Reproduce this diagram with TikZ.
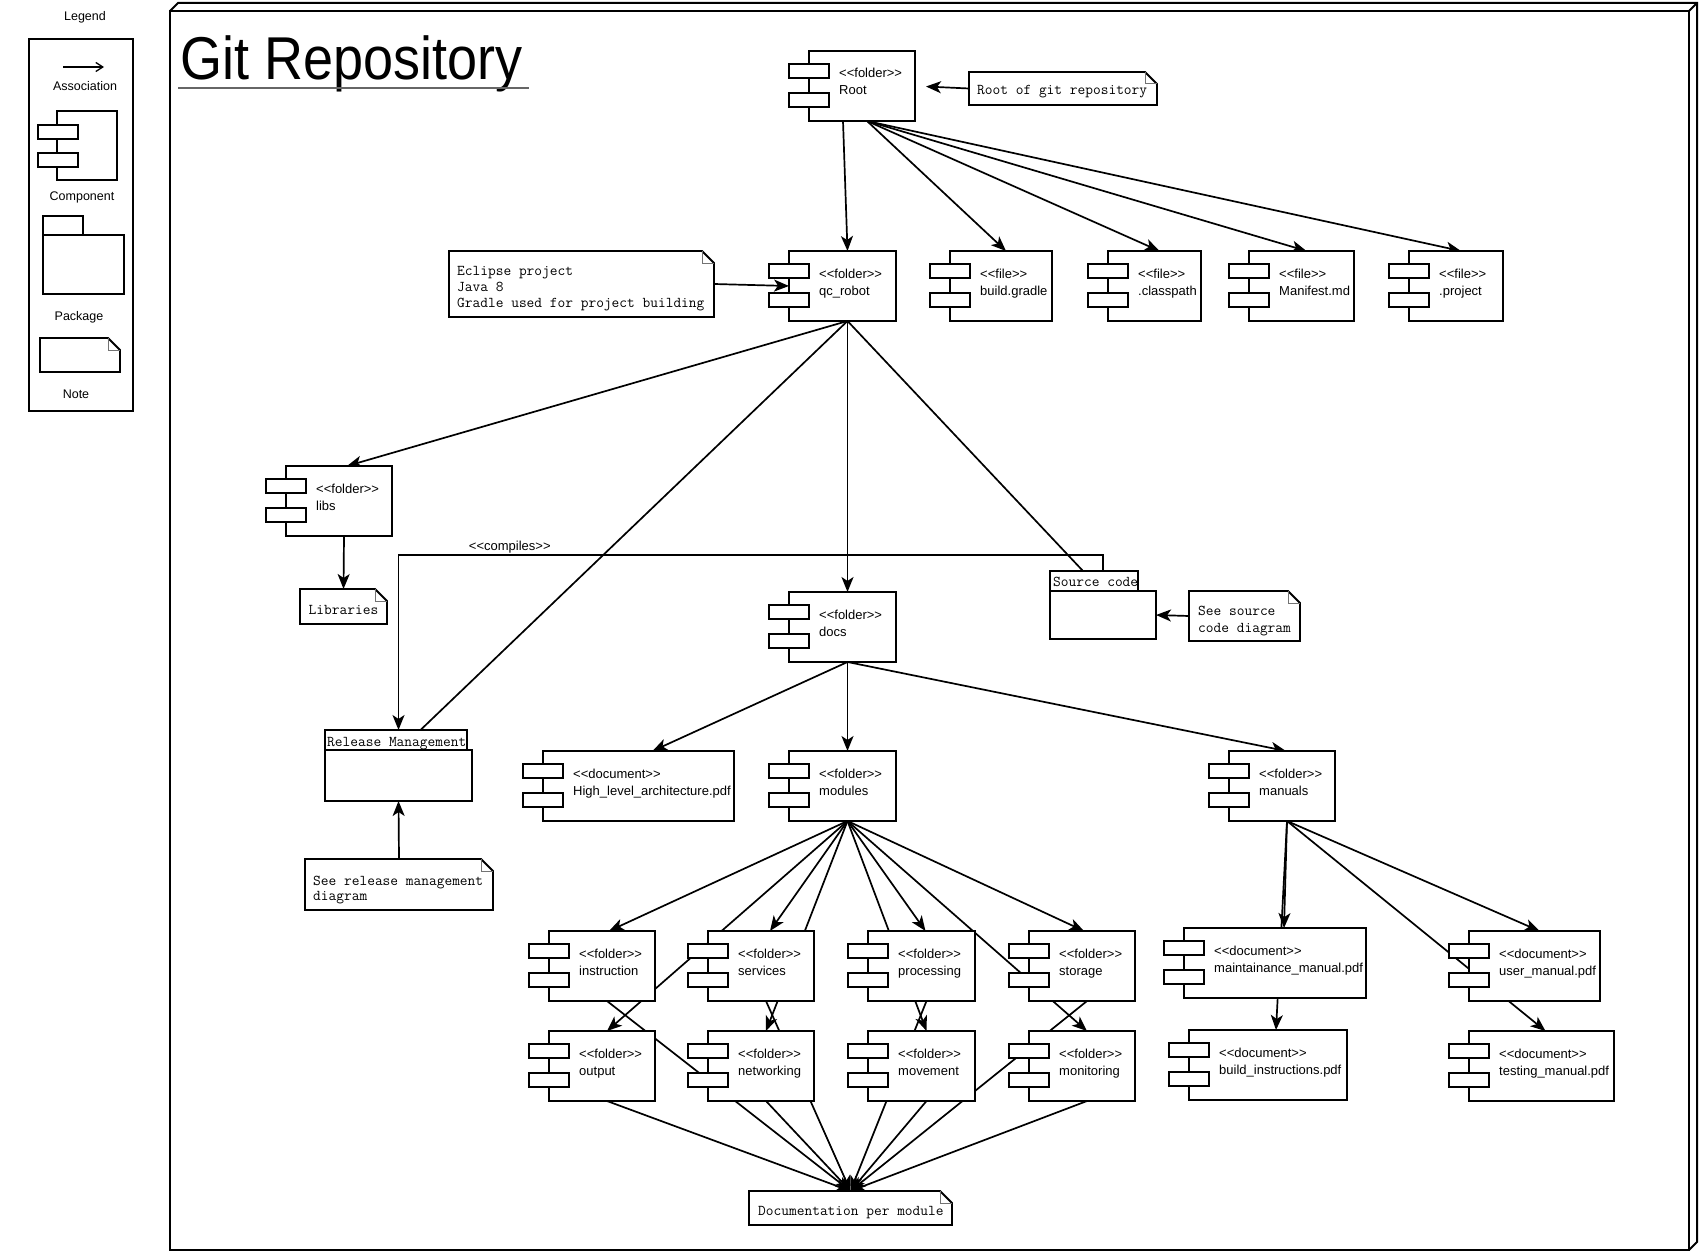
\documentclass[tikz,border=0pt]{standalone}
\usepackage{fontspec}
\usepackage{graphicx}
\newfontfamily\uifont{Liberation Sans}
\usetikzlibrary{arrows.meta,calc}
\pgfdeclarelayer{edges}
\pgfsetlayers{edges,main}
\newcommand\stereo[1]{<\kern0pt<#1>\kern0pt>}
\tikzset{
  box/.style={draw, fill=white, line width=1.8pt, inner sep=0pt, outer sep=0pt, line join=miter},
  compmain/.style={box, minimum height=70pt},
  smallbox/.style={draw, fill=white, line width=1.8pt},
  ctext/.style={font=\uifont\fontsize{13}{15}\selectfont, inner sep=0pt},
  ltext/.style={font=\uifont\fontsize{12.5}{14}\selectfont, inner sep=0pt},
  mtext/.style={font=\ttfamily\fontsize{15}{16}\selectfont, inner sep=0pt},
  notestyle/.style={draw, fill=white, line width=1.8pt, line join=miter},
  conn/.style={line width=1.7pt, -{Stealth[length=15pt,width=12pt,inset=4pt]}},
  plainconn/.style={line width=1.7pt},
  ghost/.style={inner sep=0pt, outer sep=0pt},
}
\newcommand\comp[6]{%
  \node[compmain, minimum width={#4-#2}, anchor=north west] (#1) at (#2,#3) {};
  \draw[smallbox] ($(#1.north west)+(-20,13)$) rectangle ++(40,14);
  \draw[smallbox] ($(#1.north west)+(-20,42)$) rectangle ++(40,14);
  \node[ctext, anchor=base west] (#1-s) at ($(#1.north west)+(30,27)$) {\stereo{#5}};
  \node[ctext, anchor=base west] (#1-l) at ($(#1.north west)+(30,44)$) {#6};
}
\newcommand\notebox[5]{%
  \node[ghost, minimum width={#4-#2}, minimum height={#5-#3}, anchor=north west] (#1) at (#2,#3) {};
  \draw[notestyle] (#1.north west) -- ($(#1.north east)+(-12,0)$) -- ($(#1.north east)+(0,12)$) -- (#1.south east) -- (#1.south west) -- cycle;
  \draw[line width=1pt, black!55] ($(#1.north east)+(-12,0)$) |- ($(#1.north east)+(0,12)$);
}
\begin{document}
\begin{tikzpicture}[x=1pt,y=-1pt]
\useasboundingbox (0,0) rectangle (1700,1252);

% ---------- frame (3D node) ----------
\draw[line width=2pt, line join=miter] (170,11) rectangle (1689,1250);
\draw[line width=2pt, line join=miter] (170,11) -- (178,3) -- (1697,3) -- (1697,1242) -- (1689,1250);
\draw[line width=2pt] (1689,11) -- (1697,3);

% ---------- title ----------
\node[anchor=base west, inner sep=0pt, font=\uifont\fontsize{54}{54}\selectfont] (title) at (180,80) {\scalebox{1}[1.12]{Git Repository}};
\draw[line width=1.2pt, black!60] ($(title.base west)+(-2,8)$) -- ($(title.base east)+(6,8)$);

% ---------- legend ----------
\node[ltext] (legtitle) at (85,17) {Legend};
\node[box, minimum width=104, minimum height=372, anchor=north west] (legbox) at (29,39) {};
\coordinate (la1) at (63,67);
\coordinate (la2) at (104,67);
\draw[line width=1.3pt, -{Straight Barb[length=7pt,width=9pt]}] (la1) -- (la2);
\node[ltext] (legassoc) at (85,86) {Association};
\node[box, minimum width=60, minimum height=69, anchor=north west] (legcomp) at (57,111) {};
\draw[smallbox] (38,125) rectangle (78,139);
\draw[smallbox] (38,153) rectangle (78,167);
\node[ltext] (legcompt) at (82,197) {Component};
\draw[box] (43,216) rectangle (83,235);
\draw[box] (43,235) rectangle (124,294);
\node[ltext] (legpack) at (79,317) {Package};
\notebox{legnote}{40}{338}{120}{372}
\node[ltext] (legnotet) at (76,394) {Note};

% ---------- components ----------
\comp{root}{809}{51}{915}{folder}{Root}
\comp{qc}{789}{251}{896}{folder}{qc\_robot}
\comp{bg}{950}{251}{1052}{file}{build.gradle}
\comp{cp}{1108}{251}{1201}{file}{.classpath}
\comp{mf}{1249}{251}{1354}{file}{Manifest.md}
\comp{pj}{1409}{251}{1503}{file}{.project}
\comp{libs}{286}{466}{392}{folder}{libs}
\comp{docs}{789}{592}{896}{folder}{docs}
\comp{hla}{543}{751}{734}{document}{High\_level\_architecture.pdf}
\comp{modules}{789}{751}{896}{folder}{modules}
\comp{manuals}{1229}{751}{1335}{folder}{manuals}
\comp{instr}{549}{931}{655}{folder}{instruction}
\comp{serv}{708}{931}{814}{folder}{services}
\comp{proc}{868}{931}{975}{folder}{processing}
\comp{stor}{1029}{931}{1135}{folder}{storage}
\comp{outp}{549}{1031}{655}{folder}{output}
\comp{netw}{708}{1031}{814}{folder}{networking}
\comp{move}{868}{1031}{975}{folder}{movement}
\comp{moni}{1029}{1031}{1135}{folder}{monitoring}
\comp{maint}{1184}{928}{1366}{document}{maintainance\_manual.pdf}
\comp{build}{1189}{1030}{1347}{document}{build\_instructions.pdf}
\comp{user}{1469}{931}{1600}{document}{user\_manual.pdf}
\comp{test}{1469}{1031}{1614}{document}{testing\_manual.pdf}

% ---------- packages ----------
\node[box, minimum width=88, minimum height=20, anchor=north west] (srctab) at (1050,571) {};
\node[box, minimum width=106, minimum height=48, anchor=north west] (srcbody) at (1050,591) {};
\node[mtext, anchor=base west] (srctabt) at (1053,586) {Source code};
\node[box, minimum width=142, minimum height=20, anchor=north west] (reltab) at (325,730) {};
\node[box, minimum width=147, minimum height=51, anchor=north west] (relbody) at (325,750) {};
\node[mtext, anchor=base west] (reltabt) at (327,746) {Release Management};

% ---------- notes ----------
\notebox{rootnote}{969}{72}{1157}{105}
\node[mtext, anchor=base west] (rootnotet) at (977,95) {Root of git repository};
\notebox{eclnote}{449}{251}{714}{317}
\node[mtext, anchor=base west] (ecl1) at (457,276) {Eclipse project};
\node[mtext, anchor=base west] (ecl2) at (457,291.5) {Java 8};
\node[mtext, anchor=base west] (ecl3) at (457,307) {Gradle used for project building};
\notebox{libnote}{300}{589}{387}{624}
\node[mtext, anchor=base] (libnotet) at (343.5,614) {Libraries};
\notebox{srcnote}{1189}{591}{1300}{641}
\node[mtext, anchor=base west] (src1) at (1198,615) {See source};
\node[mtext, anchor=base west] (src2) at (1198,632) {code diagram};
\notebox{relnote}{305}{859}{493}{910}
\node[mtext, anchor=base west] (rel1) at (313,885) {See release management};
\node[mtext, anchor=base west] (rel2) at (313,900) {diagram};
\notebox{docnote}{749}{1191}{952}{1225}
\node[mtext, anchor=base west] (docnotet) at (758,1215) {Documentation per module};

% ---------- connectors ----------
\begin{pgfonlayer}{edges}
\draw[conn] ([xshift=-19pt]root.south) -- ([xshift=5pt]qc.north);
\foreach \t in {bg,cp,mf,pj} \draw[conn] ([xshift=5pt]root.south) -- ([xshift=5pt]\t.north);
\draw[conn, shorten >=11pt] (rootnote.west) -- (root.east);
\draw[conn] (eclnote.east) -- (qc.west);
\draw[conn] ([xshift=5pt]qc.south) -- ([xshift=8pt]libs.north);
\draw[plainconn] ([xshift=5pt]qc.south) -- ($(relbody.north |- reltab.north)+(22,0)$);
\draw[conn] ([xshift=5pt]qc.south) -- ([xshift=5pt]docs.north);
\draw[plainconn] ([xshift=5pt]qc.south) -- ($(srcbody.north |- srctab.north)+(-20,0)$);
\draw[conn] ([xshift=5pt]libs.south) -- (libnote.north);
\draw[conn] (srcbody.north |- srctab.north) -- ++(0,-16) -| node[ctext, pos=0.421, anchor=base, yshift=4.5pt] (complbl) {\stereo{compiles}} (relbody.north |- reltab.north);
\draw[conn] (srcnote.west) -- (srcbody.east);
\draw[conn] (relnote.north) -- (relbody.south);
\draw[conn] ([xshift=5pt]docs.south) -- ([xshift=14pt]hla.north);
\draw[conn] ([xshift=5pt]docs.south) -- ([xshift=5pt]modules.north);
\draw[conn] ([xshift=5pt]docs.south) -- ([xshift=4pt]manuals.north);
\foreach \t/\k in {instr/7,serv/9,proc/4,stor/2,outp/5,netw/5,move/5,moni/5}
  \draw[conn] ([xshift=5pt]modules.south) -- ([xshift=\k pt]\t.north);
\foreach \t in {instr,serv,proc,stor,outp,netw,move,moni}
  \draw[conn] ([xshift=5pt]\t.south) -- (docnote.north);
\draw[conn] ([xshift=5pt]manuals.south) -- ([xshift=9pt]maint.north);
\draw[conn] ([xshift=5pt]manuals.south) -- ([xshift=8pt]build.north);
\draw[conn] ([xshift=5pt]manuals.south) -- ([xshift=5pt]user.north);
\draw[conn] ([xshift=5pt]manuals.south) -- ([xshift=4pt]test.north);
\end{pgfonlayer}
\end{tikzpicture}
\end{document}
